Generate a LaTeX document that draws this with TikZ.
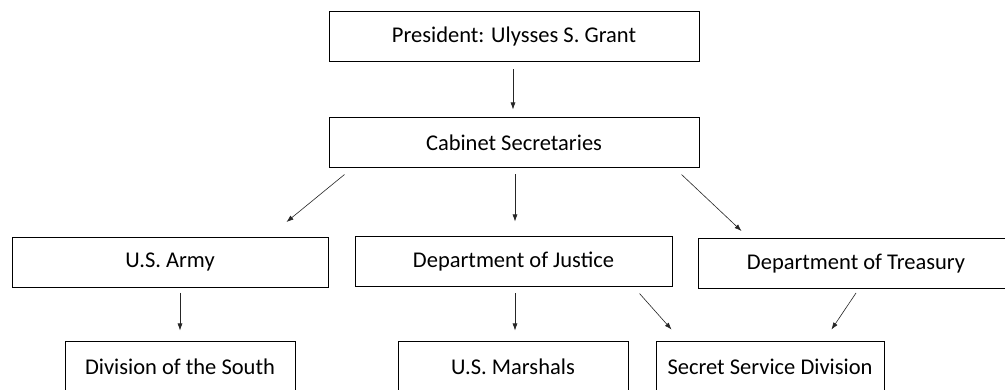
\documentclass[tikz,border=0pt]{standalone}
\usepackage{fontspec}
\setmainfont{Carlito}
\usetikzlibrary{calc,arrows.meta}
\begin{document}
\begin{tikzpicture}[x=1pt,y=-1pt,
  box/.style={draw=black,line width=1pt,fill=white,inner sep=0pt,font=\fontsize{22.5}{26}\selectfont},
  wide/.style={box,minimum width=316pt,minimum height=50pt},
  top/.style={box,minimum width=370pt,minimum height=50pt},
  low/.style={box,minimum width=230pt,minimum height=50pt},
  conn/.style={draw=black!85,line width=0.6pt,-{Latex[length=7pt,width=5pt]}}]
\clip (0,0) rectangle (1005,390);
\fill[white] (0,0) rectangle (1005,390);
\node[top] (pres) at (514,37) {President: Ulysses S. Grant};
\node[top] (cab) at (514,143) {Cabinet Secretaries};
\node[wide] (army) at (170,262.5) {U.S. Army};
\node[wide,minimum width=317pt] (just) at (513.5,262) {Department of Justice};
\node[wide] (treas) at (856,263.5) {Department of Treasury};
\node[low] (south) at (180,367) {Division of the South};
\node[low] (marsh) at (513,367) {U.S. Marshals};
\node[low,minimum width=228pt] (secret) at (770,367) {Secret Service Division};
\draw[conn] ($(pres.south)+(-1,7)$) -- ($(cab.north)+(-1,-8)$);
\draw[conn] ($(cab.south west)+(16,6)$) -- ($(army.north east)+(-42,-15)$);
\draw[conn] ($(cab.south)+(1,6)$) -- ($(just.north)+(1.5,-15)$);
\draw[conn] ($(cab.south east)+(-18,6)$) -- ($(treas.north west)+(44,-7)$);
\draw[conn] ($(army.south)+(10,5)$) -- ($(south.north)+(0,-11)$);
\draw[conn] ($(just.south)+(1.5,6)$) -- ($(marsh.north)+(2,-11)$);
\draw[conn] ($(just.south east)+(-33,6)$) -- ($(secret.north west)+(16,-12)$);
\draw[conn] ($(treas.south)+(0,4)$) -- ($(secret.north east)+(-53,-12)$);
\end{tikzpicture}
\end{document}
